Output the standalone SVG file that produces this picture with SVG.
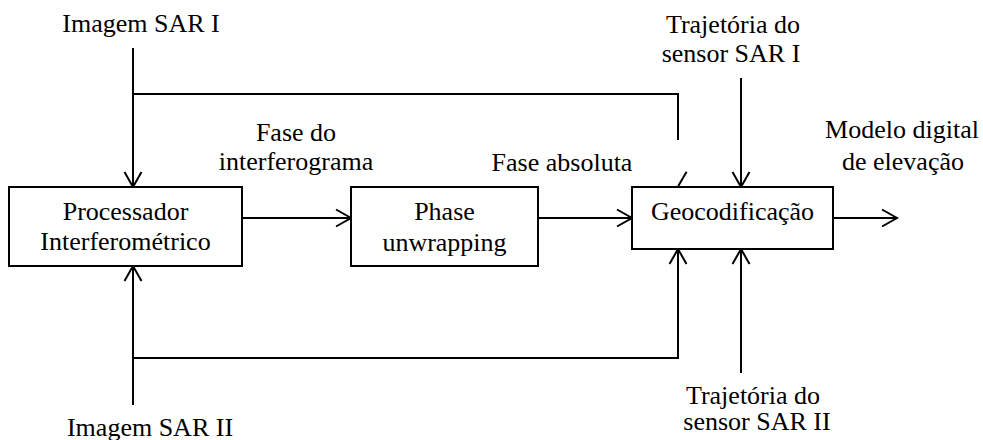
<svg xmlns="http://www.w3.org/2000/svg" width="983" height="440" viewBox="0 0 983 440">
<style>
text{font-family:'Liberation Serif','Times New Roman',serif;font-size:26px;fill:#000;text-anchor:middle}
.box{fill:#fff;stroke:#000;stroke-width:2}
.ln{fill:none;stroke:#000;stroke-width:2}
.arr{fill:none;stroke:#000;stroke-width:2;marker-end:url(#ah)}
</style>
<defs>
<marker id="ah" markerUnits="userSpaceOnUse" markerWidth="40" markerHeight="40" refX="20" refY="20" orient="auto" viewBox="0 0 40 40" overflow="visible">
<path d="M5,11.5 L20,20 L5,28.5" fill="none" stroke="#000" stroke-width="2"/>
</marker>
</defs>
<rect width="983" height="440" fill="#fff"/>
<g id="connectors">
<path class="arr" d="M133,48 V187"/>
<path class="ln" d="M133,94 H678 V140"/>
<path class="ln" d="M678.3,186 L686.6,171.7"/>
<path class="arr" d="M741,78 V187"/>
<path class="arr" d="M242,218 H351"/>
<path class="arr" d="M538,218 H632"/>
<path class="arr" d="M833,218 H897"/>
<path class="arr" d="M133,405 V266"/>
<path class="arr" d="M133,358 H678 V249"/>
<path class="arr" d="M741,373 V249"/>
</g>
<g font-family="Liberation Serif, Times New Roman, serif" font-size="26">
<g id="n1">
<rect class="box" x="9" y="187" width="233" height="79"/>
<text x="125.5" y="220" font-family="Liberation Serif, serif">Processador</text>
<text x="125.5" y="250" font-family="Liberation Serif, serif">Interferométrico</text>
</g>
<g id="n2">
<rect class="box" x="351" y="187" width="187" height="79"/>
<text x="444.5" y="220" font-family="Liberation Serif, serif">Phase</text>
<text x="444.5" y="251" font-family="Liberation Serif, serif">unwrapping</text>
</g>
<g id="n3">
<rect class="box" x="632" y="187" width="201" height="62"/>
<text x="732.5" y="220" font-family="Liberation Serif, serif">Geocodificação</text>
</g>
<g id="labels" font-family="Liberation Serif, serif">
<text x="141" y="32">Imagem SAR I</text>
<text x="150" y="436">Imagem SAR II</text>
<text x="296" y="141">Fase do</text>
<text x="296" y="170">interferograma</text>
<text x="562" y="171">Fase absoluta</text>
<text x="733" y="33">Trajetória do</text>
<text x="731" y="62">sensor SAR I</text>
<text x="753" y="404">Trajetória do</text>
<text x="757" y="430">sensor SAR II</text>
<text x="902" y="138">Modelo digital</text>
<text x="903" y="170">de elevação</text>
</g>
</g>
</svg>
